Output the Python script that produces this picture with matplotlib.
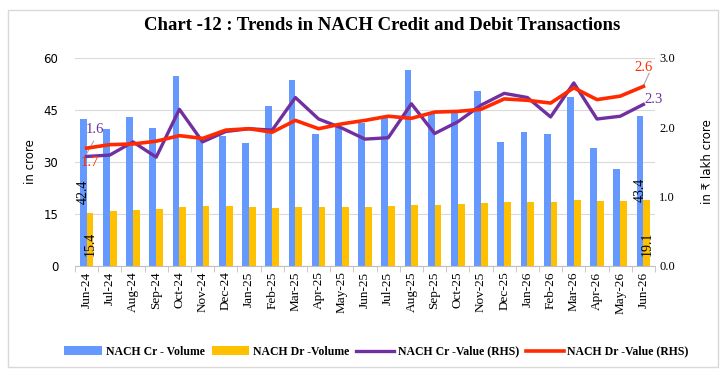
import numpy as np
import matplotlib
matplotlib.use("Agg")
import matplotlib.pyplot as plt
from matplotlib.patches import Rectangle

# data
months = ["Jun-24", "Jul-24", "Aug-24", "Sep-24", "Oct-24", "Nov-24", "Dec-24",
          "Jan-25", "Feb-25", "Mar-25", "Apr-25", "May-25", "Jun-25", "Jul-25",
          "Aug-25", "Sep-25", "Oct-25", "Nov-25", "Dec-25", "Jan-26", "Feb-26",
          "Mar-26", "Apr-26", "May-26", "Jun-26"]
cr_volume = [42.4, 39.4, 43.1, 39.9, 54.8, 37.0, 37.5, 35.6, 46.2, 53.6, 38.0, 40.0,
             41.3, 43.1, 56.5, 44.0, 44.5, 50.6, 35.9, 38.6, 38.1, 48.8, 33.9, 27.9, 43.4]
dr_volume = [15.4, 15.8, 16.1, 16.4, 17.1, 17.2, 17.2, 17.0, 16.8, 17.1, 17.0, 17.1,
             17.1, 17.4, 17.5, 17.7, 18.0, 18.2, 18.5, 18.5, 18.4, 19.0, 18.8, 18.8, 19.1]
cr_value = [1.58, 1.60, 1.79, 1.57, 2.26, 1.79, 1.94, 1.98, 1.96, 2.43, 2.12, 1.99,
            1.83, 1.85, 2.34, 1.91, 2.08, 2.32, 2.49, 2.43, 2.15, 2.64, 2.12, 2.16, 2.33]
dr_value = [1.70, 1.75, 1.76, 1.80, 1.88, 1.84, 1.96, 1.98, 1.93, 2.10, 1.98, 2.05,
            2.10, 2.16, 2.13, 2.22, 2.23, 2.26, 2.41, 2.39, 2.35, 2.57, 2.40, 2.45, 2.59]

blue = "#6699FF"
yellow = "#FFC000"
purple = "#7030A0"
red = "#FF2A00"
serif = ["Liberation Serif", "DejaVu Serif"]

fig = plt.figure(figsize=(7.24, 3.75), dpi=100)
fig.patches.append(Rectangle((8 / 724, 8 / 375), 710 / 724, 357 / 375, transform=fig.transFigure,
                             fill=False, edgecolor="#D9D9D9", linewidth=1))

ax = fig.add_axes([75 / 724, 1 - 266 / 375, 580 / 724, 208 / 375])
ax2 = ax.twinx()

x = np.arange(len(months))
w = 0.29
ax.bar(x - w / 2, cr_volume, w, color=blue, label="NACH Cr - Volume", zorder=2)
ax.bar(x + w / 2, dr_volume, w, color=yellow, label="NACH Dr -Volume", zorder=2)
ax2.plot(x, cr_value, color=purple, lw=2.4, label="NACH Cr -Value (RHS)", zorder=3)
ax2.plot(x, dr_value, color=red, lw=2.6, label="NACH Dr -Value (RHS)", zorder=3)

ax.set_xlim(-0.5, len(months) - 0.5)
ax.set_ylim(0, 60)
ax.set_yticks([0, 15, 30, 45, 60])
ax2.set_ylim(0, 3)
ax2.set_yticks([0, 1, 2, 3])
ax2.set_yticklabels(["0.0", "1.0", "2.0", "3.0"], fontfamily=serif, fontsize=9)
ax.grid(axis="y", color="#D9D9D9", lw=0.8, zorder=0)
ax.set_axisbelow(True)

ax.set_xticks(x)
ax.set_xticklabels(months, rotation=90, fontfamily=serif, fontsize=9.5)
ax.set_xticks(np.arange(-0.5, len(months), 1), minor=True)
ax.tick_params(axis="x", which="major", length=0, pad=4)
ax.tick_params(axis="x", which="minor", length=4, color="#BFBFBF")
ax.tick_params(axis="y", length=0, labelsize=8.5, pad=12)
ax2.tick_params(axis="y", length=0, pad=3)
for a in (ax, ax2):
    for s in ("top", "left", "right"):
        a.spines[s].set_visible(False)
ax.spines["bottom"].set_color("#BFBFBF")
ax2.spines["bottom"].set_visible(False)

ax.set_ylabel("in crore", fontsize=8.5, labelpad=5)
ax2.set_ylabel("in ₹ lakh crore", fontsize=8.5, labelpad=19)

# data labels
ax.text(x[0] - w / 2, 21.5, "42.4", rotation=90, ha="center", va="center",
        fontfamily=serif, fontsize=10)
ax.text(x[0] + w / 2, 6.5, "15.4", rotation=90, ha="center", va="center",
        fontfamily=serif, fontsize=10)
ax.text(x[-1] - w / 2, 22, "43.4", rotation=90, ha="center", va="center",
        fontfamily=serif, fontsize=10)
ax.text(x[-1] + w / 2, 6.5, "19.1", rotation=90, ha="center", va="center",
        fontfamily=serif, fontsize=10)
ax2.text(x[0] - 0.05, 1.97, "1.6", color=purple, fontfamily=serif, fontsize=10.5,
         ha="left", va="center", zorder=4)
ax2.text(x[0] - 0.25, 1.5, "1.7", color=red, fontfamily=serif, fontsize=10.5,
         ha="left", va="center", zorder=4)
ax2.plot([x[0], x[0] + 0.3], [1.62, 1.8], color="#A6A6A6", lw=0.8, zorder=2)
ax2.text(x[-1] - 0.4, 2.86, "2.6", color=red, fontfamily=serif, fontsize=10.5,
         ha="left", va="center", zorder=4)
ax2.plot([x[-1], x[-1] + 0.25], [2.6, 2.78], color="#A6A6A6", lw=0.8, zorder=2)
ax2.text(x[-1] + 0.05, 2.4, "2.3", color=purple, fontfamily=serif, fontsize=10.5,
         ha="left", va="center", zorder=4)

fig.text(0.528, 0.933, "Chart -12 : Trends in NACH Credit and Debit Transactions",
         ha="center", va="center", fontfamily=serif, fontweight="bold", fontsize=13.5)

h1, l1 = ax.get_legend_handles_labels()
h2, l2 = ax2.get_legend_handles_labels()
fig.legend(h1 + h2, l1 + l2, loc="center", bbox_to_anchor=(0.52, 0.062), ncol=4,
           frameon=False, prop={"family": serif, "weight": "bold", "size": 8.5},
           handlelength=3.2, handletextpad=0.3, columnspacing=0.6)

fig.savefig("out.png", dpi=100)
